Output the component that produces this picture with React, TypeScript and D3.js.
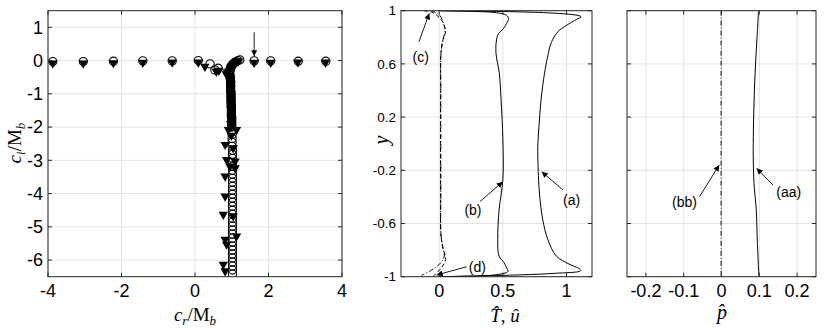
import { scaleLinear, line, curveCatmullRom, symbol, symbolTriangle } from 'd3'

const width = 830
const height = 329

// ---- panel 1: eigenvalue spectrum (c_r, c_i) ----
const rowCircles: [number, number][] = [
  [-3.87, -0.03], [-3.04, -0.03], [-2.22, -0.02], [-1.42, -0.01], [-0.62, -0.01],
  [0.09, 0.0], [0.41, -0.1], [0.54, -0.28], [0.63, -0.23],
  [1.61, -0.01], [2.06, -0.01], [2.81, -0.02], [3.56, -0.02],
]
const rowTriangles: [number, number][] = [
  [-3.87, -0.08], [-3.04, -0.08], [-2.22, -0.07], [-1.42, -0.06], [-0.62, -0.05],
  [0.09, -0.05], [0.27, -0.18], [0.58, -0.33], [0.65, -0.3],
  [1.61, -0.06], [2.06, -0.06], [2.8, -0.05], [3.55, -0.05],
]
const blobCircles: [number, number][] = [
  [1.22, 0.02], [1.17, 0.0], [1.12, -0.03], [1.07, -0.07], [1.03, -0.11],
  [1.0, -0.16], [0.98, -0.21], [0.96, -0.27], [0.95, -0.33], [0.94, -0.39],
]
const blobTriangles: [number, number][] = [
  [1.18, -0.01], [1.13, -0.03], [1.1, -0.05], [1.06, -0.08], [1.04, -0.1], [1.0, -0.15],
  [0.98, -0.19], [0.96, -0.22], [0.93, -0.3], [0.9, -0.34], [0.88, -0.36], [0.85, -0.4],
]
const branchCircles: [number, number][] = [
  [0.95, -0.45], [0.96, -0.5], [0.96, -0.56], [0.97, -0.62], [0.97, -0.68], [0.97, -0.74],
  [0.97, -0.8], [0.97, -0.86], [0.97, -0.92], [0.98, -0.98], [0.98, -1.04], [0.98, -1.1],
  [0.98, -1.16], [0.98, -1.22], [0.98, -1.28], [0.99, -1.34], [0.99, -1.4], [0.99, -1.46],
  [0.99, -1.52], [0.99, -1.58], [0.99, -1.64], [1.0, -1.7], [1.0, -1.76], [1.0, -1.82],
  [1.0, -1.88], [1.0, -1.94], [1.0, -2.0],
  [1.01, -2.1], [1.01, -2.22], [1.01, -2.34], [1.01, -2.46], [1.01, -2.58], [1.02, -2.7],
  [1.02, -2.82], [1.02, -2.94], [1.02, -3.06], [1.02, -3.18], [1.02, -3.3], [1.02, -3.42],
  [1.02, -3.54], [1.02, -3.66], [1.02, -3.78], [1.02, -3.9], [1.02, -4.02], [1.02, -4.14],
  [1.02, -4.26], [1.02, -4.38], [1.02, -4.5], [1.02, -4.62], [1.02, -4.74], [1.02, -4.86],
  [1.02, -4.98], [1.02, -5.1], [1.02, -5.22], [1.02, -5.34], [1.02, -5.46], [1.02, -5.58],
  [1.02, -5.7], [1.02, -5.82], [1.02, -5.94], [1.02, -6.06], [1.02, -6.18], [1.02, -6.3],
  [1.02, -6.42],
]
const branchTriangles: [number, number][] = [
  [0.96, -0.48], [0.97, -0.55], [0.96, -0.62], [0.98, -0.7], [0.97, -0.78], [0.98, -0.85],
  [0.97, -0.93], [0.99, -1.0], [0.98, -1.08], [0.97, -1.15], [0.99, -1.22], [0.99, -1.3],
  [0.98, -1.38], [0.97, -1.45], [0.99, -1.52], [0.99, -1.6], [0.98, -1.68], [0.98, -1.75],
  [0.99, -1.82], [0.97, -1.9], [0.99, -1.97],
  [0.91, -2.08], [1.13, -2.08], [0.99, -2.25], [0.82, -2.53], [1.04, -2.63], [0.86, -2.98],
  [1.09, -3.03], [0.95, -3.18], [1.09, -3.23], [0.82, -3.48], [0.82, -4.08], [0.77, -4.63],
  [1.04, -4.68], [1.13, -5.28], [0.82, -5.38], [0.86, -5.53], [0.77, -6.13], [0.82, -6.33],
]
const crTicks = [-4, -2, 0, 2, 4]
const ciTicks = [-6, -5, -4, -3, -2, -1, 0, 1]

// ---- panel 2: T-hat, u-hat profiles, [value, y] ----
const curveA: [number, number][] = [
  [0.0, 1.0], [0.35, 0.996], [0.75, 0.988], [1.0, 0.975], [1.1, 0.962], [1.115, 0.953],
  [1.08, 0.935], [1.0, 0.89], [0.93, 0.84], [0.88, 0.76], [0.853, 0.66], [0.827, 0.53],
  [0.8, 0.33], [0.785, 0.15], [0.775, 0.0], [0.775, -0.12], [0.787, -0.37], [0.813, -0.57],
  [0.853, -0.72], [0.92, -0.845], [1.02, -0.905], [1.1, -0.94], [1.11, -0.955],
  [0.9, -0.975], [0.5, -0.99], [0.0, -1.0],
]
const curveB: [number, number][] = [
  [0.0, 1.0], [0.25, 0.995], [0.45, 0.985], [0.53, 0.965], [0.545, 0.94], [0.535, 0.915],
  [0.5, 0.86], [0.467, 0.83], [0.45, 0.78], [0.446, 0.68], [0.472, 0.53], [0.486, 0.33],
  [0.5, 0.03], [0.5, -0.27], [0.47, -0.5], [0.46, -0.72], [0.47, -0.845], [0.51, -0.895],
  [0.53, -0.935], [0.54, -0.96], [0.45, -0.985], [0.25, -0.995], [0.0, -1.0],
]
const curveC: [number, number][] = [
  [-0.12, 1.0], [-0.05, 0.985], [0.01, 0.94], [0.04, 0.89], [0.05, 0.84], [0.026, 0.77],
  [0.013, 0.67], [0.011, 0.4], [0.01, 0.0], [0.011, -0.4], [0.013, -0.67], [0.026, -0.77],
  [0.05, -0.87], [0.02, -0.93], [-0.05, -1.0],
]
const curveD: [number, number][] = [
  [-0.065, 1.0], [0.0, 0.97], [0.035, 0.9], [0.045, 0.85], [0.03, 0.78], [0.014, 0.68],
  [0.013, 0.4], [0.013, 0.0], [0.013, -0.4], [0.013, -0.67], [0.026, -0.77], [0.04, -0.845],
  [0.013, -0.895], [-0.06, -0.95], [-0.14, -0.99],
]
const thTicks = [0, 0.5, 1]
const yTicks = [-1, -0.6, -0.2, 0.2, 0.6, 1]

// ---- panel 3: p-hat profiles ----
const pressA: [number, number][] = [
  [0.098, 1.0], [0.094, 0.8], [0.09, 0.6], [0.087, 0.4], [0.085, 0.2], [0.084, 0.0],
  [0.084, -0.1], [0.086, -0.3], [0.092, -0.5], [0.095, -0.75], [0.099, -1.0],
]
const pressB: [number, number][] = [
  [-0.001, 1.0], [-0.001, 0.5], [-0.001, 0.0], [-0.001, -0.5], [-0.001, -1.0],
]
const pTicks = [-0.2, -0.1, 0, 0.1, 0.2]

const axisColor = '#262626'
const gridColor = '#e3e3e3'
const sans = 'Liberation Sans, Arial, sans-serif'
const serif = 'Liberation Serif, Times New Roman, serif'

const top = 10.7
const bottom = 276.7

const x1 = scaleLinear().domain([-4, 4]).range([48, 342])
const y1 = scaleLinear().domain([-6.5, 1.5]).range([bottom, top])
const x2 = scaleLinear().domain([-0.3, 1.2]).range([401, 592])
const x3 = scaleLinear().domain([-0.25, 0.25]).range([627, 816])
const yP = scaleLinear().domain([-1, 1]).range([bottom, top])

const triangle = symbol(symbolTriangle, 38)()

function Grid({ xs, ys, xTicks, yTicks }) {
  const [l, r] = xs.range()
  return (
    <g>
      {xTicks.map((t) => (
        <line key={'gx' + t} x1={xs(t)} x2={xs(t)} y1={top} y2={bottom} stroke={gridColor} />
      ))}
      {yTicks.map((t) => (
        <line key={'gy' + t} x1={l} x2={r} y1={ys(t)} y2={ys(t)} stroke={gridColor} />
      ))}
    </g>
  )
}

function Box({ xs, ys, xTicks, yTicks, xFmt, yFmt, xFont, yFont }) {
  const [l, r] = xs.range()
  return (
    <g>
      <rect x={l} y={top} width={r - l} height={bottom - top} fill="none" stroke={axisColor} />
      {xTicks.map((t) => (
        <g key={'tx' + t}>
          <line x1={xs(t)} x2={xs(t)} y1={bottom} y2={bottom - 4} stroke={axisColor} />
          <line x1={xs(t)} x2={xs(t)} y1={top} y2={top + 4} stroke={axisColor} />
          <text x={xs(t)} y={297} textAnchor="middle" fontFamily={sans} fontSize={xFont} fill="#000">
            {xFmt(t)}
          </text>
        </g>
      ))}
      {yTicks.map((t) => (
        <g key={'ty' + t}>
          <line x1={l} x2={l + 4} y1={ys(t)} y2={ys(t)} stroke={axisColor} />
          <line x1={r} x2={r - 4} y1={ys(t)} y2={ys(t)} stroke={axisColor} />
          {yFmt && (
            <text x={l - 5} y={ys(t)} dy="0.35em" textAnchor="end" fontFamily={sans} fontSize={yFont} fill="#000">
              {yFmt(t)}
            </text>
          )}
        </g>
      ))}
    </g>
  )
}

function Arrow({ xs, ys, from, to }) {
  return (
    <line x1={xs(from[0])} y1={ys(from[1])} x2={xs(to[0])} y2={ys(to[1])}
      stroke="#000" strokeWidth={0.9} markerEnd="url(#head)" />
  )
}

function Note({ xs, ys, at, text }) {
  return (
    <text x={xs(at[0])} y={ys(at[1])} textAnchor="middle" fontFamily={sans} fontSize={14} fill="#000">
      {text}
    </text>
  )
}

export default function App() {
  const prof2 = line<[number, number]>().x((d) => x2(d[0])).y((d) => yP(d[1])).curve(curveCatmullRom.alpha(0.5))
  const prof3 = line<[number, number]>().x((d) => x3(d[0])).y((d) => yP(d[1])).curve(curveCatmullRom.alpha(0.5))
  const circles = [...rowCircles, ...blobCircles, ...branchCircles]
  const triangles = [...rowTriangles, ...blobTriangles, ...branchTriangles]
  const fmt = (t: number) => String(t)

  return (
    <svg width={width} height={height} style={{ position: 'absolute', left: 0, top: 0, background: '#fff' }}>
      <defs>
        <marker id="head" viewBox="0 0 10 10" refX="10" refY="5" markerWidth="7" markerHeight="6"
          markerUnits="userSpaceOnUse" orient="auto">
          <path d="M0,0 L10,5 L0,10 Z" fill="#000" />
        </marker>
        <clipPath id="c1"><rect x={48} y={top} width={294} height={bottom - top} /></clipPath>
        <clipPath id="c2"><rect x={401} y={top} width={191} height={bottom - top} /></clipPath>
        <clipPath id="c3"><rect x={627} y={top} width={189} height={bottom - top} /></clipPath>
      </defs>

      {/* panel 1 */}
      <Grid xs={x1} ys={y1} xTicks={crTicks} yTicks={ciTicks} />
      <g clipPath="url(#c1)">
        {circles.map((d, i) => (
          <circle key={'c' + i} cx={x1(d[0])} cy={y1(d[1])} r={4.1} fill="none" stroke="#000" strokeWidth={1.1} />
        ))}
        {triangles.map((d, i) => (
          <path key={'t' + i} d={triangle} transform={`translate(${x1(d[0])},${y1(d[1])}) rotate(180)`} fill="#000" />
        ))}
      </g>
      <Box xs={x1} ys={y1} xTicks={crTicks} yTicks={ciTicks} xFmt={fmt} yFmt={fmt} xFont={18} yFont={18} />
      <Arrow xs={x1} ys={y1} from={[1.61, 0.85]} to={[1.61, 0.13]} />
      <text x={195} y={321} textAnchor="middle" fontFamily={serif} fontSize={19} fill="#000">
        <tspan fontStyle="italic">c</tspan>
        <tspan fontStyle="italic" fontSize={13} dy={4}>r</tspan>
        <tspan dy={-4}>/M</tspan>
        <tspan fontStyle="italic" fontSize={13} dy={4}>b</tspan>
      </text>
      <text transform="translate(21,143) rotate(-90)" textAnchor="middle" fontFamily={serif} fontSize={19} fill="#000">
        <tspan fontStyle="italic">c</tspan>
        <tspan fontStyle="italic" fontSize={13} dy={4}>i</tspan>
        <tspan dy={-4}>/M</tspan>
        <tspan fontStyle="italic" fontSize={13} dy={4}>b</tspan>
      </text>

      {/* panel 2 */}
      <Grid xs={x2} ys={yP} xTicks={thTicks} yTicks={yTicks} />
      <g clipPath="url(#c2)" fill="none" stroke="#000" strokeWidth={1}>
        <path d={prof2(curveA)} />
        <path d={prof2(curveB)} />
        <path d={prof2(curveC)} strokeDasharray="4,2.5" />
        <path d={prof2(curveD)} strokeDasharray="5,2,1,2" />
      </g>
      <Box xs={x2} ys={yP} xTicks={thTicks} yTicks={yTicks} xFmt={fmt} yFmt={fmt} xFont={18} yFont={13.5} />
      <Arrow xs={x2} ys={yP} from={[-0.159, 0.767]} to={[-0.078, 0.98]} />
      <Note xs={x2} ys={yP} at={[-0.145, 0.618]} text="(c)" />
      <Arrow xs={x2} ys={yP} from={[0.32, -0.436]} to={[0.499, -0.286]} />
      <Note xs={x2} ys={yP} at={[0.265, -0.536]} text="(b)" />
      <Arrow xs={x2} ys={yP} from={[0.972, -0.348]} to={[0.805, -0.21]} />
      <Note xs={x2} ys={yP} at={[1.04, -0.461]} text="(a)" />
      <Arrow xs={x2} ys={yP} from={[0.216, -0.925]} to={[-0.02, -0.987]} />
      <Note xs={x2} ys={yP} at={[0.3, -0.962]} text="(d)" />
      <text transform="translate(388,140) rotate(-90)" textAnchor="middle" fontFamily={serif} fontStyle="italic" fontSize={20} fill="#000">
        y
      </text>
      <text x={505} y={322} textAnchor="middle" fontFamily={serif} fontSize={19} fill="#000">
        <tspan fontStyle="italic">{'T\u0302'}</tspan>
        <tspan>{',  '}</tspan>
        <tspan fontStyle="italic">{'u\u0302'}</tspan>
      </text>

      {/* panel 3 */}
      <Grid xs={x3} ys={yP} xTicks={pTicks} yTicks={yTicks} />
      <g clipPath="url(#c3)" fill="none" stroke="#000" strokeWidth={1}>
        <path d={prof3(pressA)} />
        <path d={prof3(pressB)} strokeDasharray="5,2,1,2" />
      </g>
      <Box xs={x3} ys={yP} xTicks={pTicks} yTicks={yTicks} xFmt={fmt} xFont={18} />
      <Arrow xs={x3} ys={yP} from={[-0.058, -0.398]} to={[-0.006, -0.16]} />
      <Note xs={x3} ys={yP} at={[-0.098, -0.474]} text="(bb)" />
      <Arrow xs={x3} ys={yP} from={[0.136, -0.31]} to={[0.093, -0.185]} />
      <Note xs={x3} ys={yP} at={[0.178, -0.398]} text="(aa)" />
      <text x={722} y={319} textAnchor="middle" fontFamily={serif} fontStyle="italic" fontSize={20} fill="#000">
        {'p\u0302'}
      </text>
    </svg>
  )
}
